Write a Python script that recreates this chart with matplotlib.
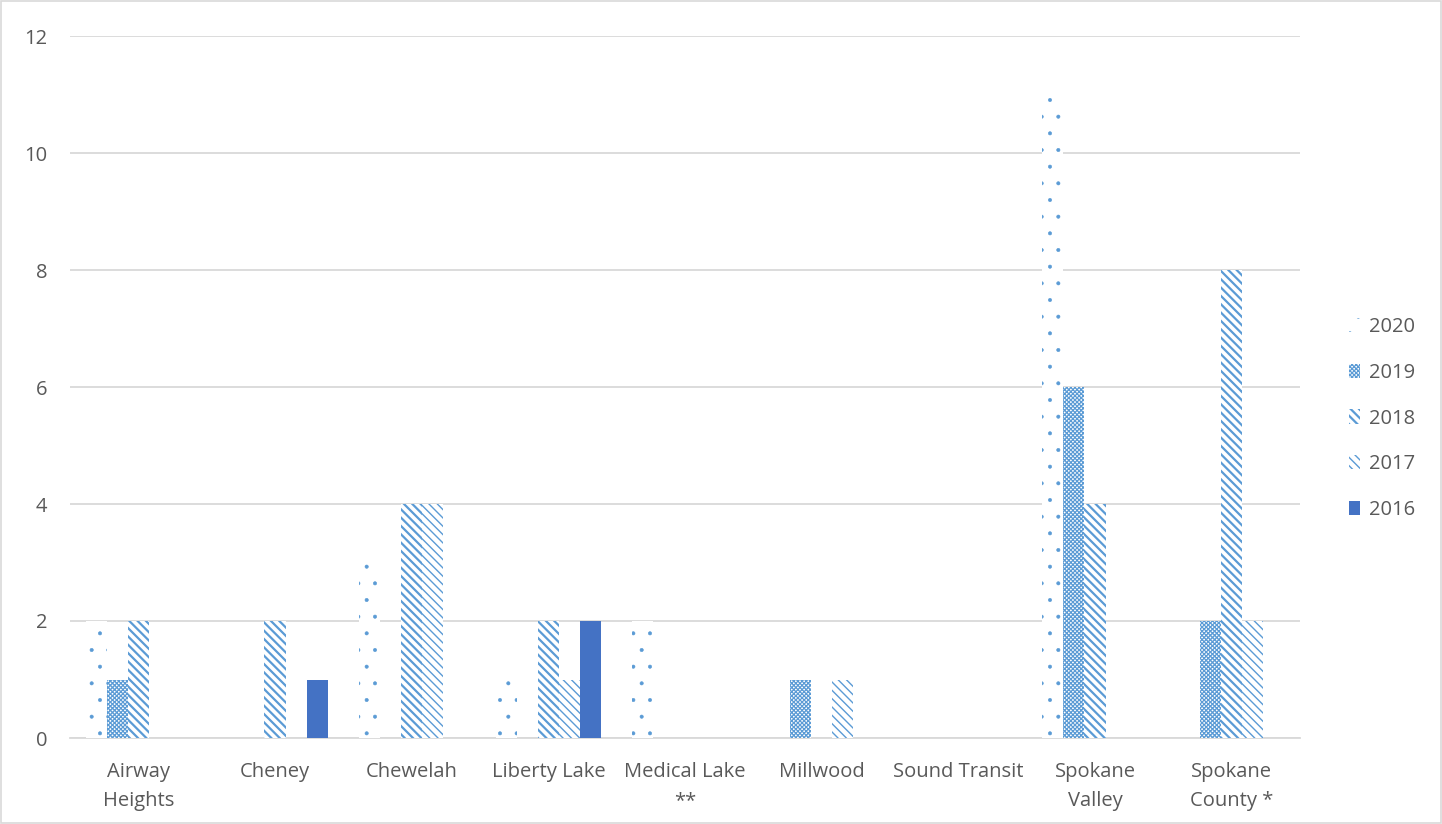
import matplotlib
matplotlib.use("Agg")
import matplotlib.pyplot as plt
import numpy as np
from matplotlib.patches import Rectangle

categories = ["Airway\nHeights", "Cheney", "Chewelah", "Liberty Lake", "Medical Lake\n**",
              "Millwood", "Sound Transit", "Spokane\nValley", "Spokane\nCounty *"]
series_names = ["2020", "2019", "2018", "2017", "2016"]
v2020 = [2, 0, 3, 1, 2, 0, 0, 11, 0]
v2019 = [1, 0, 0, 0, 0, 1, 0, 6, 2]
v2018 = [2, 2, 4, 2, 0, 0, 0, 4, 8]
v2017 = [0, 0, 4, 1, 0, 1, 0, 0, 2]
v2016 = [0, 1, 0, 2, 0, 0, 0, 0, 0]
series = [v2020, v2019, v2018, v2017, v2016]
yticks = [0, 2, 4, 6, 8, 10, 12]

plt.rcParams['font.family'] = ['Open Sans', 'DejaVu Sans']
plt.rcParams['hatch.color'] = '#5B9BD5'

FS = 14.5
fig = plt.figure(figsize=(14.42, 8.24), dpi=100)
ax = fig.add_axes([70/1442, 1-738/824, 1230/1442, 702/824])

hatches = ['.', 'xxxxxxxx', '\\\\\\\\', '\\\\\\\\', None]
hlw = [0.4, 0.9, 1.6, 1.0, 1.0]
n = len(categories)
x = np.arange(n)
w = 0.154
for i, (name, vals) in enumerate(zip(series_names, series)):
    off = (i - 2) * w
    with plt.rc_context({'hatch.linewidth': hlw[i]}):
        if hatches[i] is None:
            bars = ax.bar(x + off, vals, width=w, color='#4472C4', linewidth=0, label=name, zorder=3)
        else:
            bars = ax.bar(x + off, vals, width=w, facecolor='white', edgecolor='#5B9BD5',
                          hatch=hatches[i], linewidth=0, label=name, zorder=3)
    for b in bars:
        if hasattr(b, 'set_hatch_linewidth'):
            b.set_hatch_linewidth(hlw[i])

ax.set_xlim(-0.5, n - 0.5)
ax.set_ylim(0, 12)
ax.set_yticks(yticks)
ax.set_xticks(x)
ax.set_xticklabels(categories, fontsize=FS, color='#595959', linespacing=1.6)
ax.tick_params(axis='y', labelsize=FS, colors='#595959', length=0, pad=16.5)
ax.tick_params(axis='x', length=0, pad=17)
ax.grid(axis='y', color='#D9D9D9', linewidth=1.3, zorder=0)
for s in ['top', 'right', 'left']:
    ax.spines[s].set_visible(False)
ax.spines['bottom'].set_color('#D9D9D9')
ax.spines['bottom'].set_linewidth(1.3)
ax.set_axisbelow(True)

leg = ax.legend(loc='center left', bbox_to_anchor=(1.025, 0.455), frameon=False,
                fontsize=FS, labelspacing=1.27, handlelength=0.55, handleheight=0.7,
                handletextpad=0.45)
for t in leg.get_texts():
    t.set_color('#595959')
for h, i in zip(leg.legend_handles, range(5)):
    if hasattr(h, 'set_hatch_linewidth'):
        h.set_hatch_linewidth(hlw[i])

fig.patches.append(Rectangle((0.001, 0.001), 0.998, 0.998, transform=fig.transFigure,
                             fill=False, edgecolor='#D9D9D9', linewidth=1.2))

fig.savefig("out.png", dpi=100)
